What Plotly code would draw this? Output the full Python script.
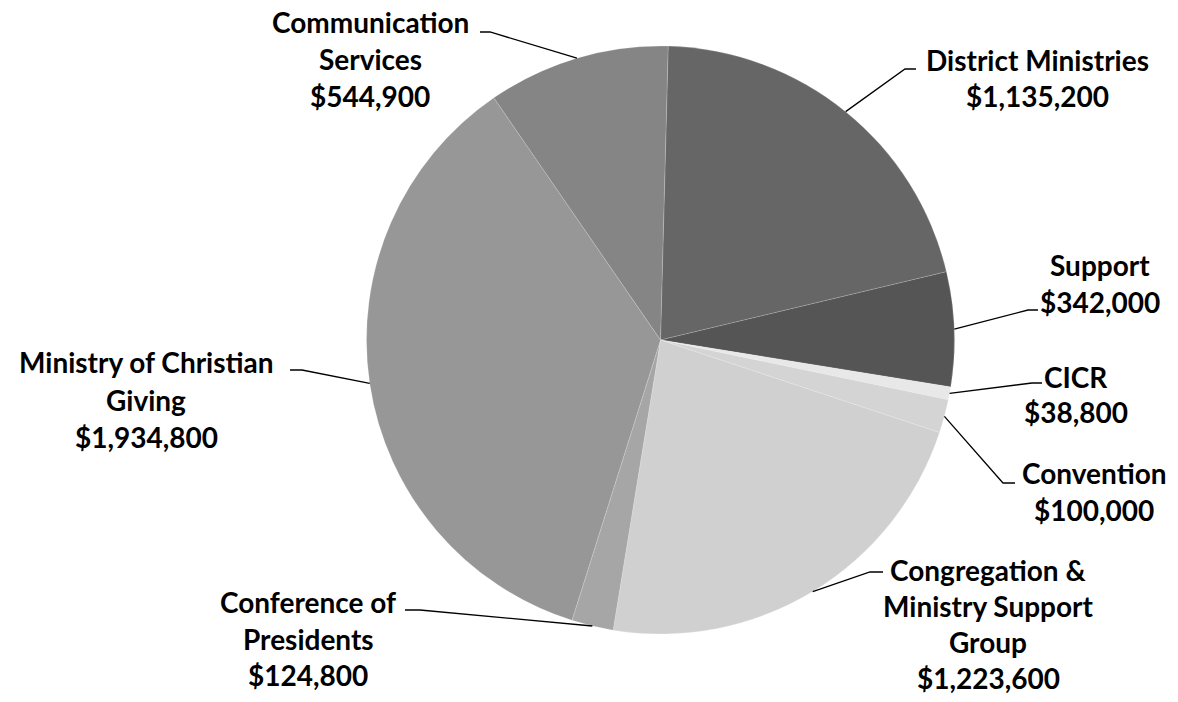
import math
import plotly.graph_objects as go

# Budget allocation by area
categories = [
    "District Ministries",
    "Support",
    "CICR",
    "Convention",
    "Congregation & Ministry Support Group",
    "Conference of Presidents",
    "Ministry of Christian Giving",
    "Communication Services",
]
amounts = [1135200, 342000, 38800, 100000, 1223600, 124800, 1934800, 544900]
label_lines = [
    ["District Ministries"],
    ["Support"],
    ["CICR"],
    ["Convention"],
    ["Congregation &", "Ministry Support", "Group"],
    ["Conference of", "Presidents"],
    ["Ministry of Christian", "Giving"],
    ["Communication", "Services"],
]
slice_colors = ["#666666", "#555555", "#e8e8e8", "#d4d4d4",
                "#d0d0d0", "#a6a6a6", "#979797", "#858585"]

W, H = 1178, 702
ROTATION = 1.5  # degrees clockwise from 12 o'clock

# pie geometry in pixels
cx, cy, r = 660.5, 340.0, 294.0
dom_x = [(cx - r) / W, (cx + r) / W]
dom_y = [1 - (cy + r) / H, 1 - (cy - r) / H]

# label layout: (centre x, first line y, line gap) and leader knee/end points (pixels)
label_pos = [
    (1037, 60, 36),
    (1100, 265, 37),
    (1076, 377, 35),
    (1094, 473, 37),
    (988, 570, 36),
    (308, 602, 36.5),
    (146, 362, 37.5),
    (370, 22, 37),
]
leader_knee = [(905, 69), (1028, 310), (1032, 383), (1003, 483),
               (870, 572), (420, 610), (302, 370), (490, 32)]
leader_end = [(916, 69), (1038, 310), (1042, 383), (1015, 483),
              (883, 572), (405, 610), (290, 370), (480, 32)]


def px(x):
    return x / W


def py(y):
    return 1 - y / H


fig = go.Figure(go.Pie(
    labels=categories,
    values=amounts,
    sort=False,
    direction="clockwise",
    rotation=ROTATION,
    marker=dict(colors=slice_colors, line=dict(color="rgba(255,255,255,0.35)", width=0.5)),
    textinfo="none",
    hoverinfo="label+value",
    showlegend=False,
    domain=dict(x=dom_x, y=dom_y),
))

total = sum(amounts)
annotations = []
shapes = []
cum = 0.0
for i, (name, val) in enumerate(zip(categories, amounts)):
    mid = ROTATION + 360.0 * (cum + val / 2) / total
    cum += val
    a = math.radians(mid)
    ex, ey = cx + r * math.sin(a), cy - r * math.cos(a)
    kx, ky = leader_knee[i]
    tx, ty = leader_end[i]
    shapes.append(dict(
        type="path", xref="paper", yref="paper",
        path=f"M {px(ex)},{py(ey)} L {px(kx)},{py(ky)} L {px(tx)},{py(ty)}",
        line=dict(color="#000000", width=1.3),
    ))
    lx, ly, gap = label_pos[i]
    lines = label_lines[i] + [f"${val:,.0f}"]
    for j, t in enumerate(lines):
        annotations.append(dict(
            x=px(lx), y=py(ly + j * gap), xref="paper", yref="paper",
            text=t, showarrow=False, xanchor="center", yanchor="middle",
            font=dict(family="Lato", size=28, color="#000000", weight=700),
        ))

fig.update_layout(
    width=W, height=H,
    margin=dict(l=0, r=0, t=0, b=0),
    paper_bgcolor="#ffffff",
    plot_bgcolor="#ffffff",
    annotations=annotations,
    shapes=shapes,
)

fig.write_html("out.html")
